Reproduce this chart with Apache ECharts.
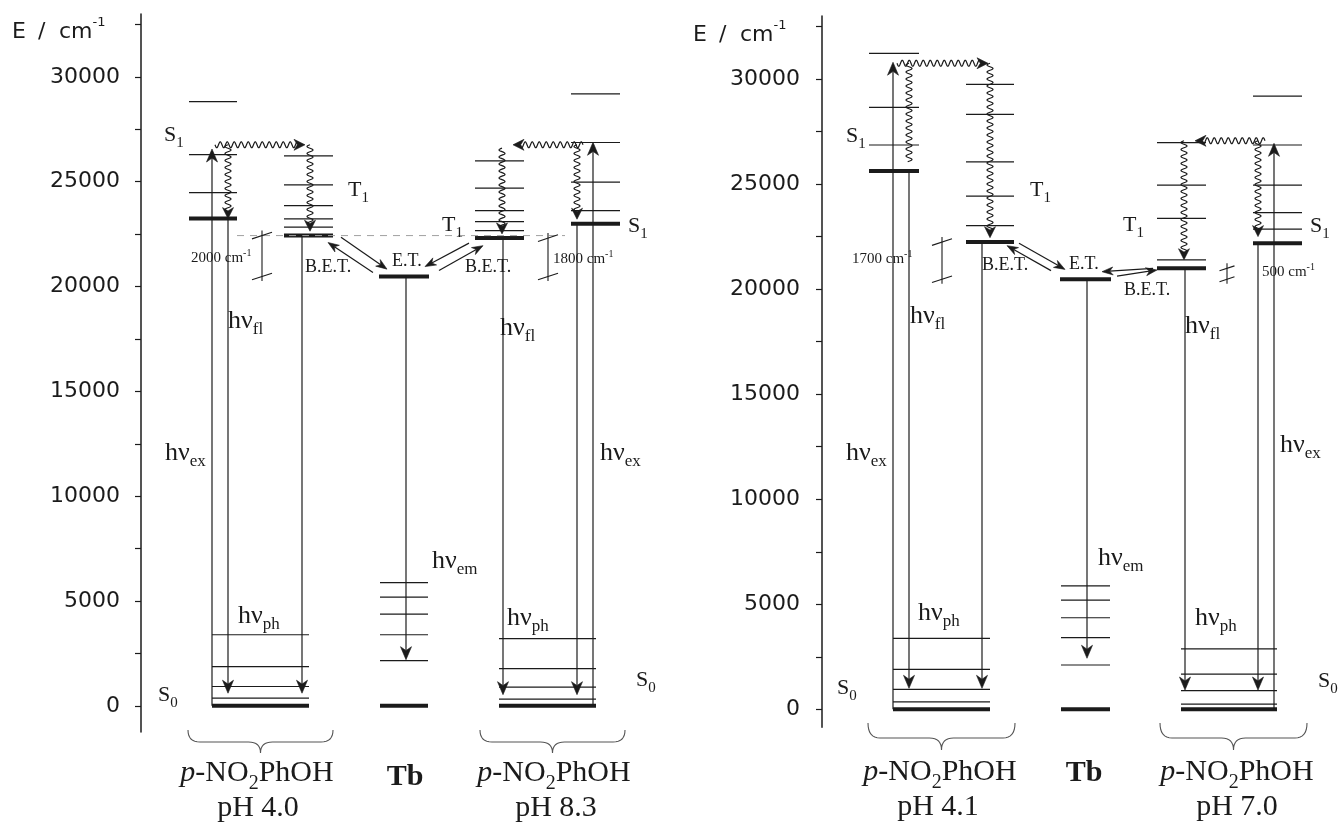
<!DOCTYPE html>
<html><head><meta charset="utf-8">
<script src="https://cdn.jsdelivr.net/npm/echarts@6/dist/echarts.min.js"></script>
<style>html,body{margin:0;padding:0;background:#fff}#c{width:1340px;height:827px}</style>
</head><body><div id="c"></div>
<script>
// ================= DATA (energies in cm^-1) =================
const GROUND = 0;
const Y_TICKS = [0, 2500, 5000, 7500, 10000, 12500, 15000, 17500, 20000, 22500, 25000, 27500, 30000, 32500];
const Y_LABELS = [0, 5000, 10000, 15000, 20000, 25000, 30000];

// ---- Left diagram: p-NO2PhOH pH 4.0 | Tb | p-NO2PhOH pH 8.3 ----
const L_A_S1 = 23240;
const L_A_S1_vib = [28820, 26290, 24480];
const L_A_T1 = 22430;
const L_A_T1_vib = [26230, 24850, 23860, 23230, 22830];
const L_A_S0_vib = [3390, 1870, 920, 370];
const L_Tb_emit = 20480;
const L_Tb_7F = [5880, 5180, 4370, 3390, 2150];
const L_B_T1 = 22310;
const L_B_T1_vib = [25990, 24690, 23620, 23100, 22670];
const L_B_S1 = 22990;
const L_B_S1_vib = [29190, 26870, 24980, 23620];
const L_B_S0_vib = [3200, 1770, 890, 320];
const L_exc_top = [26560, 26880];        // excitation arrow tips (pH 4.0, pH 8.3)
const L_decay_end = [600, 530];          // fl / ph arrow tips (pH 4.0, pH 8.3)
const L_em_end = 2200;
const L_isc = [26760, 26760];            // horizontal ISC wavy arrows
const L_wavy_A = [23240, 22640];         // S1, T1 wavy tips pH 4.0
const L_wavy_B = [23210, 22510];         // S1, T1 wavy tips pH 8.3
const L_wavy_B_T1_start = 26600;
const L_et = [[22350, 20830], [20670, 22100], [22070, 20950], [20760, 21950]];
const L_gap_labels = ['2000', '1800'];

// ---- Right diagram: p-NO2PhOH pH 4.1 | Tb | p-NO2PhOH pH 7.0 ----
const R_C_S1 = 25620;
const R_C_S1_vib = [31220, 28650, 26860];
const R_C_T1 = 22240;
const R_C_T1_vib = [29750, 28320, 26060, 24430, 23020];
const R_C_S0_vib = [3380, 1900, 950, 360];
const R_Tb_emit = 20470;
const R_Tb_7F = [5880, 5200, 4360, 3410, 2110];
const R_D_T1 = 20990;
const R_D_T1_vib = [26970, 24950, 23370, 21390];
const R_D_S1 = 22180;
const R_D_S1_vib = [29190, 26860, 24950, 23640, 22860];
const R_D_S0_vib = [2880, 1680, 890, 250];
const R_exc_top = [30800, 26940];
const R_decay_end = [1000, 920];
const R_em_end = 2430;
const R_isc = [30750, 27060];
const R_wavy_C = [26060, 22450];         // S1 (no head), T1
const R_wavy_D = [22500, 21400];         // S1, T1
const R_et = [[22180, 20940], [20880, 22070], [20990, 20830], [20620, 20910]];
const R_gap_labels = ['1700', '500'];

// ================= LAYOUT (horizontal placement, px) =================
const LX = {
  A_S1: [189, 237], A_T1: [284, 333], A_S0: [212, 309],
  Tb_hi: [379, 429], Tb_lo: [380, 428],
  B_T1: [475, 524], B_S1: [571, 620], B_S0: [499, 596],
  exA: 212, flA: 228, phA: 302, wA_T1: 310, iscA: [215, 305],
  em: 406,
  phB: 503, flB: 577, exB: 593, wB_T1: 502, iscB: [583, 513],
  ET: [[341, 387], [373, 328], [469, 425], [439, 483]],
  gap: [262, 548], dash: [237, 565]
};
const RX = {
  C_S1: [869, 919], C_T1: [966, 1014], C_S0: [893, 990],
  Tb_hi: [1060, 1111], Tb_lo: [1061, 1110],
  D_T1: [1157, 1206], D_S1: [1253, 1302], D_S0: [1181, 1277],
  exC: 893, flC: 909, phC: 982, wC_T1: 990, iscC: [897, 988],
  em: 1087,
  phD: 1185, flD: 1258, exD: 1274, wD_T1: 1184, iscD: [1265, 1195],
  ET: [[1019, 1065], [1051, 1007], [1153, 1102], [1117, 1157]],
  gap: [942, 1227]
};

const INK = '#1b1b1b';
const SERIF = '"Liberation Serif", "Times New Roman", serif';
const SANS = '"DejaVu Sans", sans-serif';

// kinds: 0 thin level, 1 thick level, 2 arrow, 3 wavy arrow, 4 wavy no head, 5 dashed, 6 gap marker, 7 small arrow
function lv(arr, span, out, k) { arr.forEach(E => out.push([span[0], E, span[1], E, k])); }

function buildLeft() {
  const m = [], X = LX;
  lv(L_A_S1_vib, X.A_S1, m, 0); lv([L_A_S1], X.A_S1, m, 1);
  lv(L_A_T1_vib, X.A_T1, m, 0); lv([L_A_T1], X.A_T1, m, 1);
  lv(L_A_S0_vib, X.A_S0, m, 0); lv([GROUND], X.A_S0, m, 1);
  lv([L_Tb_emit], X.Tb_hi, m, 1); lv(L_Tb_7F, X.Tb_lo, m, 0); lv([GROUND], X.Tb_lo, m, 1);
  lv(L_B_T1_vib, X.B_T1, m, 0); lv([L_B_T1], X.B_T1, m, 1);
  lv(L_B_S1_vib, X.B_S1, m, 0); lv([L_B_S1], X.B_S1, m, 1);
  lv(L_B_S0_vib, X.B_S0, m, 0); lv([GROUND], X.B_S0, m, 1);
  m.push([X.dash[0], L_A_T1, X.dash[1], L_A_T1, 5]);
  m.push([X.exA, GROUND, X.exA, L_exc_top[0], 2]);
  m.push([X.flA, L_A_S1, X.flA, L_decay_end[0], 2]);
  m.push([X.phA, L_A_T1, X.phA, L_decay_end[0], 2]);
  m.push([X.em, L_Tb_emit, X.em, L_em_end, 2]);
  m.push([X.phB, L_B_T1, X.phB, L_decay_end[1], 2]);
  m.push([X.flB, L_B_S1, X.flB, L_decay_end[1], 2]);
  m.push([X.exB, GROUND, X.exB, L_exc_top[1], 2]);
  m.push([X.iscA[0], L_isc[0], X.iscA[1], L_isc[0], 3]);
  m.push([X.flA, L_isc[0], X.flA, L_wavy_A[0], 3]);
  m.push([X.wA_T1, L_isc[0], X.wA_T1, L_wavy_A[1], 3]);
  m.push([X.iscB[0], L_isc[1], X.iscB[1], L_isc[1], 3]);
  m.push([X.flB, L_isc[1], X.flB, L_wavy_B[0], 3]);
  m.push([X.wB_T1, L_wavy_B_T1_start, X.wB_T1, L_wavy_B[1], 3]);
  L_et.forEach((e, i) => m.push([X.ET[i][0], e[0], X.ET[i][1], e[1], 7]));
  m.push([X.gap[0], L_A_T1, X.gap[0], L_Tb_emit, 6]);
  m.push([X.gap[1], L_B_T1, X.gap[1], L_Tb_emit, 6]);
  return m;
}
function buildRight() {
  const m = [], X = RX;
  lv(R_C_S1_vib, X.C_S1, m, 0); lv([R_C_S1], X.C_S1, m, 1);
  lv(R_C_T1_vib, X.C_T1, m, 0); lv([R_C_T1], X.C_T1, m, 1);
  lv(R_C_S0_vib, X.C_S0, m, 0); lv([GROUND], X.C_S0, m, 1);
  lv([R_Tb_emit], X.Tb_hi, m, 1); lv(R_Tb_7F, X.Tb_lo, m, 0); lv([GROUND], X.Tb_lo, m, 1);
  lv(R_D_T1_vib, X.D_T1, m, 0); lv([R_D_T1], X.D_T1, m, 1);
  lv(R_D_S1_vib, X.D_S1, m, 0); lv([R_D_S1], X.D_S1, m, 1);
  lv(R_D_S0_vib, X.D_S0, m, 0); lv([GROUND], X.D_S0, m, 1);
  m.push([X.exC, GROUND, X.exC, R_exc_top[0], 2]);
  m.push([X.flC, R_C_S1, X.flC, R_decay_end[0], 2]);
  m.push([X.phC, R_C_T1, X.phC, R_decay_end[0], 2]);
  m.push([X.em, R_Tb_emit, X.em, R_em_end, 2]);
  m.push([X.phD, R_D_T1, X.phD, R_decay_end[1], 2]);
  m.push([X.flD, R_D_S1, X.flD, R_decay_end[1], 2]);
  m.push([X.exD, GROUND, X.exD, R_exc_top[1], 2]);
  m.push([X.iscC[0], R_isc[0], X.iscC[1], R_isc[0], 3]);
  m.push([X.flC, R_isc[0], X.flC, R_wavy_C[0], 4]);
  m.push([X.wC_T1, R_isc[0], X.wC_T1, R_wavy_C[1], 3]);
  m.push([X.iscD[0], R_isc[1], X.iscD[1], R_isc[1], 3]);
  m.push([X.flD, R_isc[1], X.flD, R_wavy_D[0], 3]);
  m.push([X.wD_T1, R_isc[1], X.wD_T1, R_wavy_D[1], 3]);
  R_et.forEach((e, i) => m.push([X.ET[i][0], e[0], X.ET[i][1], e[1], 7]));
  m.push([X.gap[0], R_C_T1, X.gap[0], R_Tb_emit, 6]);
  m.push([X.gap[1], R_D_T1, X.gap[1], R_Tb_emit, 6]);
  return m;
}

// ================= drawing helpers =================
function unit(a, b) { const dx = b[0] - a[0], dy = b[1] - a[1], l = Math.hypot(dx, dy) || 1; return [dx / l, dy / l, l]; }
function head(b, ux, uy, L, W) {
  const nx = -uy, ny = ux;
  const base = [b[0] - ux * L, b[1] - uy * L];
  const notch = [b[0] - ux * L * 0.7, b[1] - uy * L * 0.7];
  return { type: 'polygon', shape: { points: [b, [base[0] + nx * W, base[1] + ny * W], notch, [base[0] - nx * W, base[1] - ny * W]] }, style: { fill: INK, stroke: INK, lineWidth: 0.6 } };
}
function arrow(a, b, L, W, lw) {
  const [ux, uy] = unit(a, b);
  const notch = [b[0] - ux * L * 0.7, b[1] - uy * L * 0.7];
  return [{ type: 'line', shape: { x1: a[0], y1: a[1], x2: notch[0], y2: notch[1] }, style: { stroke: INK, lineWidth: lw } }, head(b, ux, uy, L, W)];
}
function wavy(a, b, withHead) {
  const [ux, uy, len] = unit(a, b), nx = -uy, ny = ux;
  const amp = 3.0, per = 7.0, L = 11;
  const end = withHead ? len - L * 0.7 : len;
  const pts = [];
  for (let s = 0; s <= end; s += 0.5) {
    const o = amp * Math.sin(2 * Math.PI * s / per);
    pts.push([a[0] + ux * s + nx * o, a[1] + uy * s + ny * o]);
  }
  const out = [{ type: 'polyline', shape: { points: pts }, style: { stroke: INK, lineWidth: 1.2, fill: null } }];
  if (withHead) out.push(head(b, ux, uy, L, 5.5));
  return out;
}
function gapMark(a, b) {
  const x = a[0], hw = Math.abs(b[1] - a[1]) < 20 ? 7.5 : 10, sl = hw * 0.33;
  const ln = (x1, y1, x2, y2) => ({ type: 'line', shape: { x1, y1, x2, y2 }, style: { stroke: INK, lineWidth: 1.1 } });
  return [ln(x, a[1] - 5, x, b[1] + 4.5), ln(x - hw, a[1] + sl, x + hw, a[1] - sl), ln(x - hw, b[1] + sl, x + hw, b[1] - sl)];
}
function renderItem(params, api) {
  const k = api.value(4);
  const a = api.coord([api.value(0), api.value(1)]);
  const b = api.coord([api.value(2), api.value(3)]);
  let children;
  if (k === 0 || k === 1) children = [{ type: 'line', shape: { x1: a[0], y1: a[1], x2: b[0], y2: b[1] }, style: { stroke: INK, lineWidth: k ? 4 : 1.2 } }];
  else if (k === 5) children = [{ type: 'line', shape: { x1: a[0], y1: a[1], x2: b[0], y2: b[1] }, style: { stroke: '#a0a0a0', lineWidth: 1, lineDash: [7, 6] } }];
  else if (k === 2) children = arrow(a, b, 13, 5.5, 1.2);
  else if (k === 7) children = arrow(a, b, 11, 4, 1.2);
  else if (k === 3) children = wavy(a, b, true);
  else if (k === 4) children = wavy(a, b, false);
  else children = gapMark(a, b);
  return { type: 'group', children };
}

// ================= text (graphic) =================
const mctx = document.createElement('canvas').getContext('2d');
const S = (t, s, o) => Object.assign({ t, s }, o || {});
const G = [];
function add(x, base, parts, align) {
  const ws = parts.map(p => { mctx.font = (p.it ? 'italic ' : '') + (p.b ? 'bold ' : '') + p.s + 'px ' + (p.f || SERIF); return mctx.measureText(p.t).width; });
  const tot = ws.reduce((u, v) => u + v, 0);
  let cx = align === 'center' ? x - tot / 2 : x;
  parts.forEach((p, i) => {
    G.push({ type: 'text', x: cx, y: base + (p.dy || 0) - 0.33 * p.s, z: 100, silent: true,
      style: { text: p.t, fontSize: p.s, fontFamily: p.f || SERIF, fontStyle: p.it ? 'italic' : 'normal', fontWeight: p.b ? 'bold' : 'normal',
        fill: INK, textAlign: 'left', align: 'left', textVerticalAlign: 'middle', verticalAlign: 'middle' } });
    cx += ws[i];
  });
}
const lvl = (x, b, L, n) => add(x, b, [S(L, 22), S(n, 15, { dy: 6 })]);
const hv = (x, b, sub) => add(x, b, [S('hν', 26), S(sub, 17, { dy: 5 })]);
const cm = (x, b, num) => add(x, b, [S(num + ' cm', 15), S('-1', 10, { dy: -6 })]);
const lab = (x, b, t) => add(x, b, [S(t, 18)]);
const mol = (cx, b) => add(cx, b, [S('p', 30, { it: true }), S('-NO', 30), S('2', 20, { dy: 7 }), S('PhOH', 30)], 'center');
const big = (cx, b, t, bold) => add(cx, b, [S(t, 30, { b: !!bold })], 'center');
function eunit(xE, xs, xcm, b) {
  add(xE, b, [S('E', 22, { f: SANS })]);
  add(xs, b, [S('/', 22, { f: SANS })]);
  add(xcm, b, [S('cm', 22, { f: SANS }), S('-1', 13, { f: SANS, dy: -13 })]);
}
// left panel labels
eunit(12, 38, 59, 40);
lvl(164, 142, 'S', '1'); lvl(348, 197, 'T', '1'); lvl(442, 232, 'T', '1'); lvl(628, 233, 'S', '1');
lvl(158, 702, 'S', '0'); lvl(636, 687, 'S', '0');
hv(165, 462, 'ex'); hv(228, 330, 'fl'); hv(432, 570, 'em'); hv(238, 625, 'ph');
hv(500, 337, 'fl'); hv(507, 627, 'ph'); hv(600, 462, 'ex');
cm(191, 263, L_gap_labels[0]); cm(553, 264, L_gap_labels[1]);
lab(305, 273, 'B.E.T.'); lab(392, 267, 'E.T.'); lab(465, 273, 'B.E.T.');
mol(257, 783); big(258, 818, 'pH 4.0'); big(405, 787, 'Tb', true);
mol(554, 783); big(556, 818, 'pH 8.3');
// right panel labels
eunit(693, 719, 740, 43);
lvl(846, 143, 'S', '1'); lvl(1030, 197, 'T', '1'); lvl(1123, 232, 'T', '1'); lvl(1310, 233, 'S', '1');
lvl(837, 695, 'S', '0'); lvl(1318, 688, 'S', '0');
hv(846, 462, 'ex'); hv(910, 325, 'fl'); hv(1098, 567, 'em'); hv(918, 622, 'ph');
hv(1185, 335, 'fl'); hv(1195, 627, 'ph'); hv(1280, 454, 'ex');
cm(852, 264, R_gap_labels[0]); cm(1262, 277, R_gap_labels[1]);
lab(982, 271, 'B.E.T.'); lab(1069, 270, 'E.T.'); lab(1124, 296, 'B.E.T.');
mol(940, 782); big(938, 817, 'pH 4.1'); big(1084, 783, 'Tb', true);
mol(1237, 782); big(1237, 817, 'pH 7.0');

// curly braces under each molecule
function q(p0, c, p1, n, out) { for (let i = 1; i <= n; i++) { const t = i / n, u = 1 - t; out.push([u * u * p0[0] + 2 * u * t * c[0] + t * t * p1[0], u * u * p0[1] + 2 * u * t * c[1] + t * t * p1[1]]); } }
function brace(x1, x2, yTop, yMid, yTip) {
  const xm = (x1 + x2) / 2, r = 12, pts = [[x1, yTop]];
  q([x1, yTop], [x1, yMid], [x1 + r, yMid], 8, pts);
  pts.push([xm - r, yMid]);
  q([xm - r, yMid], [xm, yMid], [xm, yTip], 8, pts);
  q([xm, yTip], [xm, yMid], [xm + r, yMid], 8, pts);
  pts.push([x2 - r, yMid]);
  q([x2 - r, yMid], [x2, yMid], [x2, yTop], 8, pts);
  G.push({ type: 'polyline', silent: true, z: 100, shape: { points: pts }, style: { stroke: '#555', lineWidth: 1.1, fill: null } });
}
brace(188, 333, 730, 742, 753); brace(480, 625, 730, 742, 753);
brace(868, 1015, 723, 738, 750); brace(1160, 1307, 723, 738, 750);

// ================= chart =================
function yAx(i, min) {
  return { gridIndex: i, type: 'value', min: min, max: 33000,
    axisLine: { show: true, onZero: false, lineStyle: { color: INK, width: 1.5 } },
    axisTick: { show: true, inside: false, length: 6, customValues: Y_TICKS, lineStyle: { color: INK, width: 1.2 } },
    axisLabel: { customValues: Y_LABELS, formatter: v => String(v), margin: i ? 22 : 21, fontSize: 22, fontFamily: SANS, color: INK },
    splitLine: { show: false } };
}
const chart = echarts.init(document.getElementById('c'), null, { renderer: 'canvas' });
chart.setOption({
  animation: false,
  backgroundColor: '#fff',
  grid: [{ left: 141, top: 14, width: 540, height: 718 }, { left: 822, top: 16, width: 510, height: 711.2 }],
  xAxis: [{ gridIndex: 0, type: 'value', min: 141, max: 681, show: false }, { gridIndex: 1, type: 'value', min: 822, max: 1332, show: false }],
  yAxis: [yAx(0, -1250), yAx(1, -850)],
  series: [
    { type: 'custom', xAxisIndex: 0, yAxisIndex: 0, renderItem, clip: false, silent: true, dimensions: ['x1', 'e1', 'x2', 'e2', 'k'], encode: { x: [0, 2], y: [1, 3] }, data: buildLeft() },
    { type: 'custom', xAxisIndex: 1, yAxisIndex: 1, renderItem, clip: false, silent: true, dimensions: ['x1', 'e1', 'x2', 'e2', 'k'], encode: { x: [0, 2], y: [1, 3] }, data: buildRight() }
  ],
  graphic: G
});
</script></body></html>
